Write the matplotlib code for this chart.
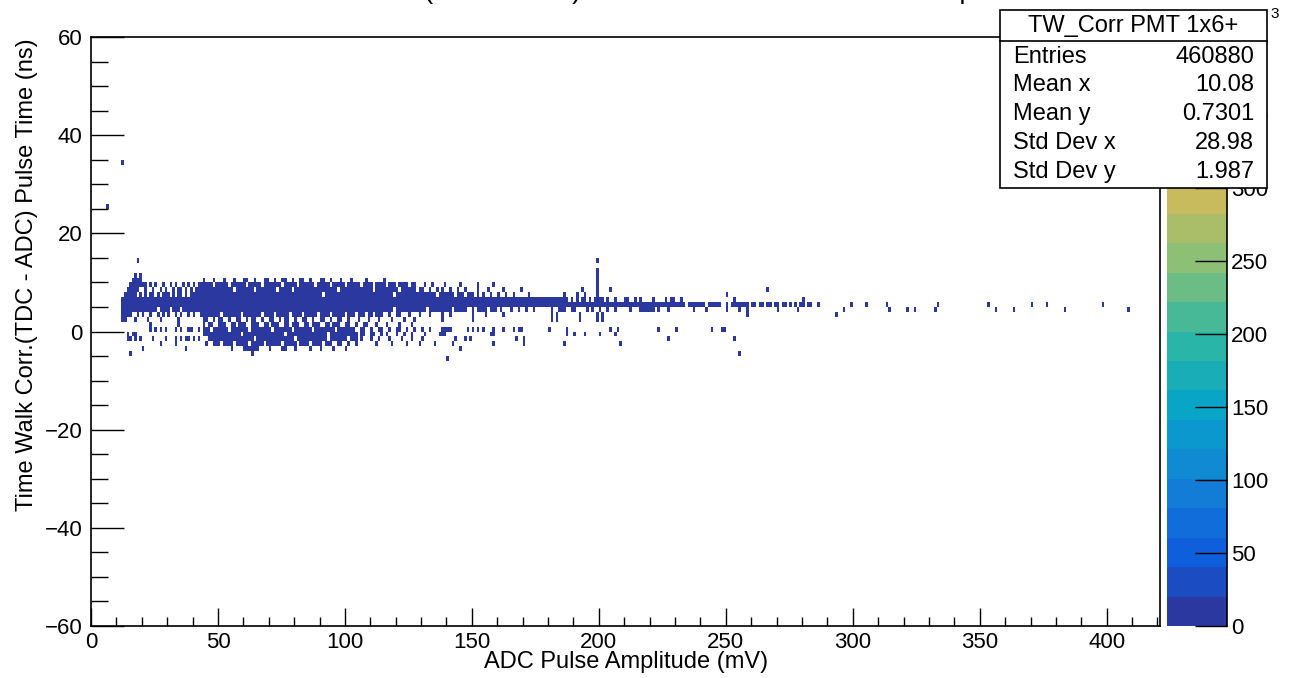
import numpy as np
import matplotlib
matplotlib.use("Agg")
import matplotlib.pyplot as plt
from matplotlib.colors import ListedColormap, BoundaryNorm
from matplotlib.patches import Rectangle
from matplotlib.lines import Line2D

plt.rcParams['font.family'] = ['Liberation Sans', 'DejaVu Sans']

# --- data: occupied (x bin in mV, 1 mV wide) ranges per 1 ns y row ---
row_p34 = [(12, 12)]
row_p25 = [(6, 6)]
row_p14 = [(18, 18), (199, 199)]
row_p12 = [(199, 199)]
row_p11 = [(17, 17), (19, 19), (199, 199)]
row_p10 = [(16, 19), (44, 44), (48, 48), (52, 52), (56, 56), (60, 61), (64, 64), (68, 69), (72, 72),
           (75, 76), (79, 79), (82, 83), (86, 86), (90, 91), (94, 94), (98, 98), (102, 102), (108, 108),
           (115, 115), (199, 199)]
row_p9 = [(15, 21), (23, 23), (25, 25), (28, 28), (31, 31), (33, 33), (36, 36), (38, 38), (40, 40),
          (42, 47), (49, 53), (55, 60), (62, 66), (68, 74), (76, 80), (82, 87), (89, 93), (95, 99),
          (101, 105), (107, 110), (112, 115), (117, 119), (121, 124), (126, 127), (131, 131), (134, 134),
          (139, 139), (145, 145), (152, 152), (158, 158), (199, 199)]
row_p8 = [(14, 18), (21, 21), (24, 24), (27, 27), (29, 29), (32, 32), (34, 35), (37, 37), (39, 39),
          (41, 55), (57, 63), (65, 72), (74, 78), (80, 96), (98, 110), (112, 120), (122, 127), (129, 130),
          (133, 133), (136, 136), (138, 138), (141, 141), (144, 144), (147, 147), (152, 152), (156, 156),
          (162, 162), (169, 169), (193, 193), (199, 199), (204, 204), (266, 266)]
row_p7 = [(13, 17), (19, 19), (21, 21), (23, 24), (26, 26), (28, 30), (32, 32), (34, 35), (37, 37),
          (39, 90), (92, 118), (120, 135), (137, 142), (144, 146), (148, 150), (152, 152), (154, 154),
          (157, 157), (160, 160), (163, 163), (166, 166), (172, 172), (186, 186), (191, 191), (194, 194),
          (199, 199), (250, 250)]
row_p6 = [(12, 187), (189, 189), (191, 191), (193, 194), (196, 196), (198, 201), (203, 203), (206, 206),
          (210, 211), (214, 214), (216, 216), (221, 221), (226, 226), (228, 229), (232, 232), (253, 253),
          (280, 280)]
row_p5 = [(12, 233), (235, 241), (243, 247), (250, 250), (252, 258), (260, 261), (263, 264), (266, 267),
          (269, 270), (272, 273), (275, 275), (277, 277), (279, 280), (282, 283), (286, 286), (299, 299),
          (305, 305), (313, 313), (333, 333), (353, 353), (370, 370), (376, 376), (398, 398)]
row_p4 = [(12, 25), (27, 30), (32, 34), (36, 118), (120, 131), (133, 141), (143, 147), (150, 150),
          (152, 155), (157, 159), (161, 161), (165, 165), (168, 168), (171, 171), (174, 174), (181, 181),
          (184, 186), (189, 190), (195, 195), (197, 197), (200, 200), (203, 203), (206, 206), (212, 212),
          (216, 221), (223, 223), (227, 227), (237, 237), (242, 242), (250, 250), (255, 255), (258, 258),
          (270, 270), (278, 278), (296, 296), (314, 314), (321, 321), (324, 324), (332, 332), (356, 356),
          (363, 363), (383, 383), (408, 408)]
row_p3 = [(12, 15), (18, 18), (20, 20), (23, 23), (26, 26), (28, 28), (30, 30), (33, 33), (35, 35),
          (38, 38), (40, 40), (43, 50), (52, 58), (60, 66), (68, 71), (73, 77), (79, 82), (84, 88),
          (90, 93), (95, 99), (101, 103), (105, 107), (109, 110), (112, 114), (117, 117), (120, 121),
          (125, 125), (129, 129), (133, 133), (138, 138), (141, 141), (150, 150), (155, 155), (162, 162),
          (181, 181), (183, 183), (192, 192), (199, 199), (201, 201), (258, 258), (293, 293)]
row_p2 = [(12, 13), (17, 17), (22, 22), (27, 27), (34, 34), (44, 45), (48, 48), (50, 51), (54, 54),
          (57, 58), (61, 61), (63, 64), (67, 67), (70, 71), (74, 74), (76, 77), (80, 80), (83, 84),
          (87, 87), (90, 91), (94, 94), (97, 98), (101, 101), (105, 105), (109, 109), (113, 113),
          (118, 118), (123, 123), (127, 127), (138, 138), (150, 150), (181, 181), (183, 183), (192, 192),
          (199, 199), (201, 201)]
row_p1 = [(23, 23), (34, 34), (44, 44), (46, 47), (50, 52), (55, 56), (58, 60), (63, 65), (68, 69),
          (71, 73), (76, 77), (79, 81), (84, 85), (87, 89), (92, 93), (95, 97), (100, 101), (104, 104),
          (107, 108), (112, 112), (116, 116), (121, 121), (126, 126)]
row_0 = [(23, 23), (25, 25), (27, 27), (29, 29), (33, 33), (35, 35), (38, 39), (42, 42), (44, 46),
         (48, 53), (55, 61), (63, 70), (72, 78), (80, 86), (88, 95), (97, 103), (106, 107), (110, 110),
         (113, 114), (117, 117), (120, 121), (124, 124), (127, 127), (130, 130), (133, 133), (138, 141),
         (148, 148), (150, 150), (152, 152), (154, 154), (158, 158), (162, 162), (166, 166), (168, 169),
         (180, 180), (187, 187), (204, 204), (207, 207), (223, 223), (230, 230), (244, 244), (248, 249)]
row_m1 = [(14, 14), (16, 17), (44, 58), (60, 75), (77, 92), (94, 104), (106, 107), (110, 111), (114, 114),
          (116, 116), (120, 120), (123, 123), (126, 126), (131, 131), (137, 139), (157, 158), (187, 187),
          (190, 190), (194, 194), (200, 200), (206, 206)]
row_m2 = [(14, 15), (17, 17), (19, 19), (24, 24), (29, 29), (33, 33), (35, 35), (37, 38), (40, 40),
          (42, 42), (46, 63), (65, 79), (81, 92), (94, 100), (102, 104), (106, 106), (110, 110), (113, 113),
          (117, 117), (122, 122), (126, 126), (130, 130), (143, 143), (147, 147), (149, 149), (167, 167),
          (170, 170), (227, 227), (253, 253)]
row_m3 = [(27, 27), (33, 33), (45, 45), (48, 50), (52, 55), (57, 61), (63, 67), (69, 74), (76, 80),
          (82, 85), (87, 90), (92, 94), (97, 98), (101, 101), (104, 104), (112, 112), (118, 118),
          (124, 124), (129, 129), (135, 135), (142, 142), (158, 158), (170, 170), (186, 186), (208, 208)]
row_m4 = [(20, 20), (37, 37), (55, 55), (60, 65), (70, 70), (75, 76), (80, 80), (86, 86), (90, 90),
          (95, 95), (100, 100), (145, 145)]
row_m5 = [(15, 15), (63, 63), (255, 255)]
row_m6 = [(140, 140)]

row_y = [34, 25, 14, 12, 11, 10, 9, 8, 7, 6, 5, 4, 3, 2, 1, 0, -1, -2, -3, -4, -5, -6]
row_ranges = [row_p34, row_p25, row_p14, row_p12, row_p11, row_p10, row_p9, row_p8, row_p7, row_p6,
              row_p5, row_p4, row_p3, row_p2, row_p1, row_0, row_m1, row_m2, row_m3, row_m4, row_m5, row_m6]

z_max = 403.2  # palette top, in units of 10^3 entries
n_contours = 20
cbar_ticks = [0, 50, 100, 150, 200, 250, 300, 350, 400]

stat_names = ["Entries", "Mean x", "Mean y", "Std Dev x", "Std Dev y"]
stat_values = ["460880", "10.08", "0.7301", "28.98", "1.987"]

# --- histogram grid ---
x_edges = np.arange(0, 422, 1.0)
y_edges = np.arange(-60, 61, 1.0)
H = np.zeros((len(y_edges) - 1, len(x_edges) - 1))
for yv, ranges in zip(row_y, row_ranges):
    for a, b in ranges:
        H[yv + 60, a:b + 1] = 1.0
H = np.ma.masked_equal(H, 0)

# ROOT kBird palette, one colour per contour band
stops = [0.0, 0.125, 0.25, 0.375, 0.5, 0.625, 0.75, 0.875, 1.0]
red = [0.2082, 0.0592, 0.0780, 0.0232, 0.1802, 0.5301, 0.8186, 0.9956, 0.9764]
green = [0.1664, 0.3599, 0.5041, 0.6419, 0.7178, 0.7492, 0.7328, 0.7862, 0.9832]
blue = [0.5293, 0.8684, 0.8385, 0.7914, 0.6425, 0.4662, 0.3499, 0.1968, 0.0539]
t = (np.arange(n_contours) + 0.7) / n_contours
cols = np.column_stack([np.interp(t, stops, red), np.interp(t, stops, green), np.interp(t, stops, blue)])
cmap = ListedColormap(cols)
levels = np.linspace(0, z_max, n_contours + 1)
norm = BoundaryNorm(levels, cmap.N)

W, Hpx = 1290, 678
fig = plt.figure(figsize=(W / 100, Hpx / 100), dpi=100)
ax = fig.add_axes([91 / W, 52 / Hpx, 1069 / W, 589 / Hpx])
cax = fig.add_axes([1167 / W, 52 / Hpx, 60 / W, 589 / Hpx])

mesh = ax.pcolormesh(x_edges, y_edges, H, cmap=cmap, norm=norm)
ax.set_xlim(0, 421)
ax.set_ylim(-60, 60)
ax.set_xticks(np.arange(0, 401, 50))
ax.set_xticks(np.arange(0, 421, 10), minor=True)
ax.set_yticks(np.arange(-60, 61, 20))
ax.set_yticks(np.arange(-60, 61, 5), minor=True)
ax.tick_params(axis='x', which='major', direction='in', length=13, width=1, labelsize=16, pad=4)
ax.tick_params(axis='x', which='minor', direction='in', length=6.5, width=1)
ax.tick_params(axis='y', which='major', direction='in', length=24, width=1, labelsize=16, pad=6)
ax.tick_params(axis='y', which='minor', direction='in', length=12, width=1)
for s in ax.spines.values():
    s.set_linewidth(1.2)

cb = fig.colorbar(mesh, cax=cax)
cb.outline.set_visible(False)
cb.set_ticks(cbar_ticks)
cax.tick_params(axis='y', which='major', direction='in', length=23, width=1, labelsize=16, pad=3,
                right=True, left=False)
cax.tick_params(axis='y', which='minor', length=0)
cax.plot([1, 1], [0, 1], transform=cax.transAxes, color='k', lw=1.2, clip_on=False)

# axis titles and (cropped) histogram title
fig.text(626 / W, 1 - 662 / Hpx, "ADC Pulse Amplitude (mV)", ha='center', va='center', fontsize=17)
fig.text(27 / W, 1 - 38 / Hpx, "Time Walk Corr.(TDC - ADC) Pulse Time (ns)", rotation=90,
         ha='center', va='top', fontsize=17)
fig.text(630 / W, 1 + 1.5 / Hpx, "Time Walk Corr. (TDC - ADC) Pulse Time vs. ADC Pulse Amplitude",
         ha='center', va='baseline', fontsize=20)

# palette exponent label (mostly hidden behind the stats box)
fig.text(1262 / W, 1 - 30 / Hpx, "\u00d710", ha='right', va='center', fontsize=14)
fig.text(1270 / W, 1 - 14 / Hpx, "3", ha='left', va='center', fontsize=11)

# stats box
x0, y0, x1, y1, ysep = 1000, 10, 1267, 188, 41
fig.patches.append(Rectangle((x0 / W, 1 - y1 / Hpx), (x1 - x0) / W, (y1 - y0) / Hpx,
                             transform=fig.transFigure, facecolor='white', edgecolor='black',
                             lw=1.2, zorder=10))
fig.lines.append(Line2D([x0 / W, x1 / W], [1 - ysep / Hpx] * 2, transform=fig.transFigure,
                        color='black', lw=1.2, zorder=11))
fig.text((x0 + x1) / 2 / W, 1 - 26 / Hpx, "TW_Corr PMT 1x6+", ha='center', va='center',
         fontsize=17, zorder=12)
row_centres = [57, 85, 114, 143, 172]
for name, val, yc in zip(stat_names, stat_values, row_centres):
    fig.text(1013 / W, 1 - yc / Hpx, name, ha='left', va='center', fontsize=17, zorder=12)
    fig.text(1254 / W, 1 - yc / Hpx, val, ha='right', va='center', fontsize=17, zorder=12)

fig.savefig("out.png", dpi=100)
